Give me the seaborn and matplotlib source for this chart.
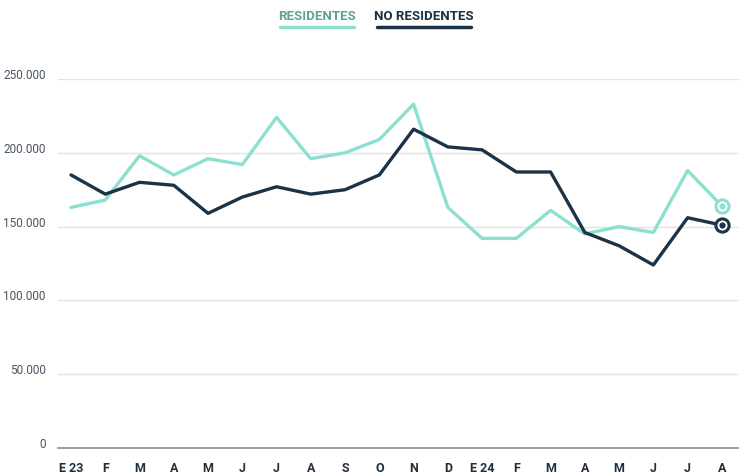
import matplotlib
matplotlib.use("Agg")
import matplotlib.pyplot as plt
import seaborn as sns
import pandas as pd
from matplotlib.ticker import FuncFormatter

months = ["E 23", "F", "M", "A", "M", "J", "J", "A", "S", "O", "N", "D",
          "E 24", "F", "M", "A", "M", "J", "J", "A"]
residentes = [163000, 168000, 198000, 185000, 196000, 192000, 224000, 196000, 200000, 209000,
              233000, 163000, 142000, 142000, 161000, 145000, 150000, 146000, 188000, 164000]
no_residentes = [185000, 172000, 180000, 178000, 159000, 170000, 177000, 172000, 175000, 185000,
                 216000, 204000, 202000, 187000, 187000, 146000, 137000, 124000, 156000, 151000]
series_names = ["RESIDENTES", "NO RESIDENTES"]

LIGHT = "#8ddfcf"
DARK = "#1c3246"

n = len(months)
df = pd.DataFrame({
    "x": list(range(n)) * 2,
    "valor": residentes + no_residentes,
    "serie": [series_names[0]] * n + [series_names[1]] * n,
})

sns.set_style("white")
plt.rcParams["font.family"] = ["Roboto", "DejaVu Sans"]

fig = plt.figure(figsize=(7.39, 4.74), dpi=100)
ax = fig.add_axes([58 / 739, 1 - 448 / 474, 1 - 58 / 739, (448 - 79) / 474])

sns.lineplot(data=df, x="x", y="valor", hue="serie", palette=[LIGHT, DARK],
             linewidth=2.4, ax=ax, legend=False)

# End markers
for vals, col in [(residentes, LIGHT), (no_residentes, DARK)]:
    ax.scatter([n - 1], [vals[-1]], s=90, facecolor="white", edgecolor=col, linewidth=2.2, zorder=5)
    ax.scatter([n - 1], [vals[-1]], s=12, color=col, zorder=6)

ax.set_ylim(0, 250000)
ax.set_xlim(-0.38, n - 0.5)
ax.set_yticks([0, 50000, 100000, 150000, 200000, 250000])
ax.yaxis.set_major_formatter(FuncFormatter(lambda v, p: f"{int(v):,}".replace(",", ".")))
ax.set_xticks(range(n))
ax.set_xticklabels(months)
for lbl in ax.get_xticklabels():
    lbl.set_fontweight("bold")
    lbl.set_color("#1f2f3e")
    lbl.set_fontsize(9)
for lbl in ax.get_yticklabels():
    lbl.set_color("#4a5560")
    lbl.set_fontsize(8.5)
    lbl.set_verticalalignment("baseline")

ax.grid(axis="y", color="#e3e3e3", linewidth=1)
ax.set_axisbelow(True)
for s in ["top", "right", "left"]:
    ax.spines[s].set_visible(False)
ax.spines["bottom"].set_color("#8a8f95")
ax.spines["bottom"].set_linewidth(1.2)
ax.tick_params(axis="x", length=4, color="#8a8f95", pad=6)
ax.tick_params(axis="y", length=0, pad=9)
ax.set_xlabel("")
ax.set_ylabel("")

# Legend
fig.text(317 / 739, 1 - 17 / 474, series_names[0], ha="center", va="center",
         fontsize=9.5, fontweight="bold", color="#5fa394")
fig.text(424 / 739, 1 - 17 / 474, series_names[1], ha="center", va="center",
         fontsize=9.5, fontweight="bold", color=DARK)
fig.add_artist(plt.Line2D([280 / 739, 354 / 739], [1 - 27 / 474] * 2, color=LIGHT, linewidth=2.5))
fig.add_artist(plt.Line2D([377 / 739, 471 / 739], [1 - 27 / 474] * 2, color=DARK, linewidth=2.5))

fig.savefig("out.png", dpi=100)
